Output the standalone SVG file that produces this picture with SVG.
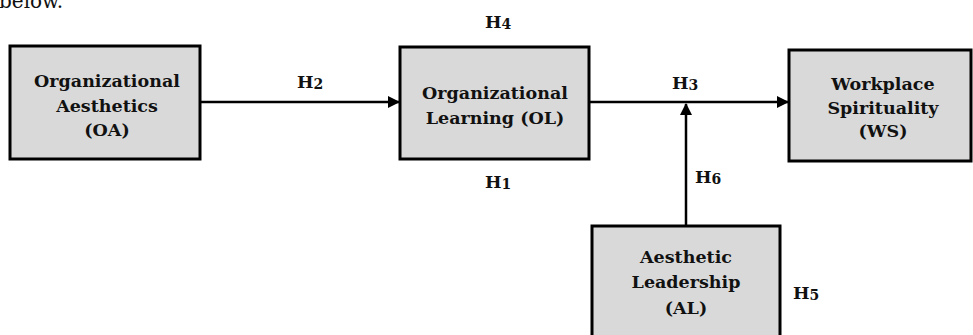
<svg xmlns="http://www.w3.org/2000/svg" width="973" height="335" viewBox="0 0 973 335">
<defs>
<style>
.box{fill:#d9d9d9;stroke:#000;stroke-width:3}
.t{font-family:"DejaVu Serif","Liberation Serif",serif;font-weight:bold;font-size:17.5px;fill:#111;text-anchor:middle}
.h{font-family:"DejaVu Serif","Liberation Serif",serif;font-weight:bold;font-size:17.5px;fill:#111}
.s{font-size:14px}
.ln{stroke:#000;stroke-width:2.5;fill:none}
</style>
<marker id="ah" markerWidth="12" markerHeight="12" refX="11" refY="6" orient="auto" markerUnits="userSpaceOnUse">
<path d="M0,0 L12,6 L0,12 Z" fill="#000"/>
</marker>
</defs>
<rect width="973" height="335" fill="#fff"/>
<text x="-1" y="8" font-family="DejaVu Serif,serif" font-size="20" fill="#111">below.</text>
<g id="OA">
<rect class="box" x="10" y="46" width="190" height="113"/>
<text class="t" x="107" y="87">Organizational</text>
<text class="t" x="107" y="112">Aesthetics</text>
<text class="t" x="107" y="136">(OA)</text>
</g>
<g id="OL">
<rect class="box" x="400" y="47" width="189" height="112"/>
<text class="t" x="495" y="99">Organizational</text>
<text class="t" x="495" y="124">Learning (OL)</text>
</g>
<g id="WS">
<rect class="box" x="789" y="50" width="182" height="111"/>
<text class="t" x="883" y="90">Workplace</text>
<text class="t" x="883" y="114">Spirituality</text>
<text class="t" x="883" y="137">(WS)</text>
</g>
<g id="AL">
<rect class="box" x="592" y="226" width="188" height="120"/>
<text class="t" x="686" y="263">Aesthetic</text>
<text class="t" x="686" y="288">Leadership</text>
<text class="t" x="686" y="314">(AL)</text>
</g>
<g id="connectors">
<line class="ln" x1="200" y1="102" x2="399" y2="102" marker-end="url(#ah)"/>
<line class="ln" x1="589" y1="102" x2="788" y2="102" marker-end="url(#ah)"/>
<line class="ln" x1="686" y1="226" x2="686" y2="104" marker-end="url(#ah)"/>
</g>
<g id="labels">
<text class="h" x="297" y="88">H<tspan class="s" dy="1">2</tspan></text>
<text class="h" x="485" y="28">H<tspan class="s" dy="1">4</tspan></text>
<text class="h" x="485" y="188">H<tspan class="s" dy="1">1</tspan></text>
<text class="h" x="672" y="89">H<tspan class="s" dy="1">3</tspan></text>
<text class="h" x="695" y="183">H<tspan class="s" dy="1">6</tspan></text>
<text class="h" x="793" y="299">H<tspan class="s" dy="1">5</tspan></text>
</g>
</svg>
